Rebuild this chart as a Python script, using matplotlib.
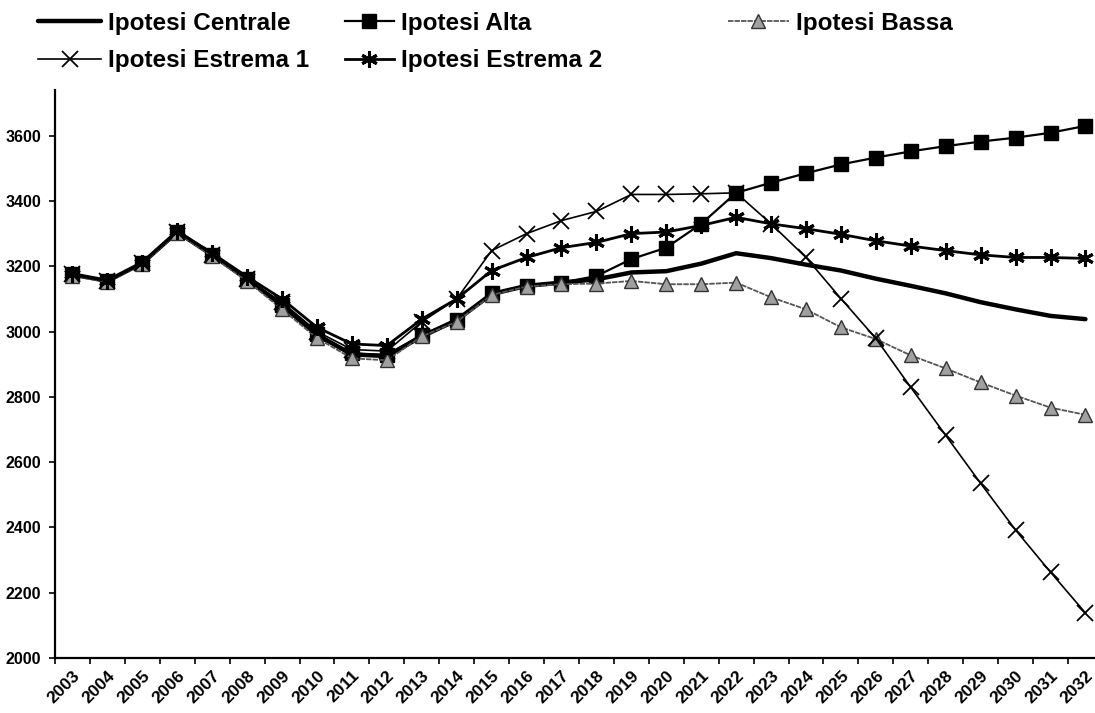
import matplotlib
matplotlib.use("Agg")
import matplotlib.pyplot as plt
from matplotlib.ticker import FixedLocator, NullFormatter

plt.rcParams['font.family'] = ['Liberation Sans', 'DejaVu Sans']

years = [str(y) for y in range(2003, 2033)]

centrale = [3175, 3155, 3210, 3305, 3235, 3160, 3080, 2990, 2930, 2925,
            2985, 3035, 3115, 3140, 3150, 3160, 3181, 3185, 3208, 3240,
            3225, 3205, 3187, 3162, 3140, 3117, 3090, 3068, 3048, 3038]

alta = [3175, 3155, 3210, 3305, 3235, 3160, 3082, 2992, 2933, 2928,
        2990, 3035, 3117, 3141, 3150, 3170, 3222, 3257, 3330, 3425,
        3456, 3485, 3512, 3533, 3552, 3568, 3582, 3594, 3609, 3630]

bassa = [3170, 3152, 3207, 3302, 3230, 3155, 3068, 2980, 2918, 2912,
         2985, 3030, 3112, 3138, 3145, 3147, 3155, 3145, 3145, 3150,
         3105, 3068, 3013, 2977, 2927, 2887, 2844, 2804, 2767, 2745]

estrema1 = [3175, 3155, 3210, 3305, 3235, 3160, 3090, 3000, 2945, 2940,
            3030, 3100, 3248, 3300, 3340, 3368, 3420, 3420, 3422, 3425,
            3330, 3227, 3101, 2979, 2829, 2682, 2535, 2392, 2263, 2138]

estrema2 = [3175, 3155, 3210, 3308, 3240, 3168, 3100, 3013, 2962, 2957,
            3038, 3100, 3187, 3227, 3257, 3273, 3300, 3305, 3325, 3350,
            3330, 3315, 3298, 3278, 3262, 3248, 3235, 3227, 3227, 3224]

y_ticks = [2000, 2200, 2400, 2600, 2800, 3000, 3200, 3400, 3600]

W, H = 1095, 713
fig = plt.figure(figsize=(W / 100, H / 100), dpi=100)
fig.patch.set_facecolor('white')

ax_left, ax_bottom, ax_top = 55, 658, 90
slot = 34.93
ax = fig.add_axes([ax_left / W, 1 - ax_bottom / H,
                   slot * len(years) / W, (ax_bottom - ax_top) / H])

x = list(range(len(years)))

l_c, = ax.plot(x, centrale, color='black', lw=3.2, solid_capstyle='round',
               label='Ipotesi Centrale', zorder=2)
l_a, = ax.plot(x, alta, color='black', lw=1.6, marker='s', markersize=9.5,
               markerfacecolor='black', markeredgecolor='black',
               label='Ipotesi Alta', zorder=3)
l_b, = ax.plot(x, bassa, color='#555555', lw=1.3, linestyle=(0, (3, 0.6)),
               marker='^', markersize=9.5, markerfacecolor='#a0a0a0',
               markeredgecolor='#333333', markeredgewidth=1.0,
               label='Ipotesi Bassa', zorder=4)
l_e1, = ax.plot(x, estrema1, color='black', lw=1.2, marker='x',
                markersize=11, markeredgewidth=1.3,
                label='Ipotesi Estrema 1', zorder=5)
l_e2, = ax.plot(x, estrema2, color='black', lw=2.0, marker=(6, 2, 0),
                markersize=12, markeredgewidth=2.2,
                label='Ipotesi Estrema 2', zorder=6)

ax.set_xlim(-0.5, len(years) - 0.5)
ax.set_ylim(2000, 3740)

ax.set_yticks(y_ticks)
ax.set_yticklabels([str(v) for v in y_ticks], fontsize=11.5, fontweight='bold')
ax.tick_params(axis='y', direction='out', length=4, width=1.2, pad=6)

ax.set_xticks(x)
ax.set_xticklabels(years, rotation=45, ha='right', va='top',
                   rotation_mode='anchor', fontsize=12.5, fontweight='bold')
ax.tick_params(axis='x', which='major', length=0, pad=7)
ax.xaxis.set_minor_locator(FixedLocator([i - 0.5 for i in range(len(years) + 1)]))
ax.xaxis.set_minor_formatter(NullFormatter())
ax.tick_params(axis='x', which='minor', direction='out', length=4, width=1.2)

for side in ('top', 'right'):
    ax.spines[side].set_visible(False)
for side in ('left', 'bottom'):
    ax.spines[side].set_linewidth(1.6)
    ax.spines[side].set_color('black')

leg_kw = dict(loc='upper left', frameon=False, borderpad=0, borderaxespad=0,
              handletextpad=0.3, labelspacing=0.58,
              prop={'size': 17.5, 'weight': 'bold'},
              bbox_transform=fig.transFigure)

top_y = 12
fig.legend([l_c, l_e1], ['Ipotesi Centrale', 'Ipotesi Estrema 1'],
           bbox_to_anchor=(38 / W, 1 - top_y / H), handlelength=2.6, **leg_kw)
fig.legend([l_a, l_e2], ['Ipotesi Alta', 'Ipotesi Estrema 2'],
           bbox_to_anchor=(345 / W, 1 - top_y / H), handlelength=2.0, **leg_kw)
fig.legend([l_b], ['Ipotesi Bassa'],
           bbox_to_anchor=(728 / W, 1 - top_y / H), handlelength=2.5, **leg_kw)

fig.savefig('out.png', dpi=100, facecolor='white')
